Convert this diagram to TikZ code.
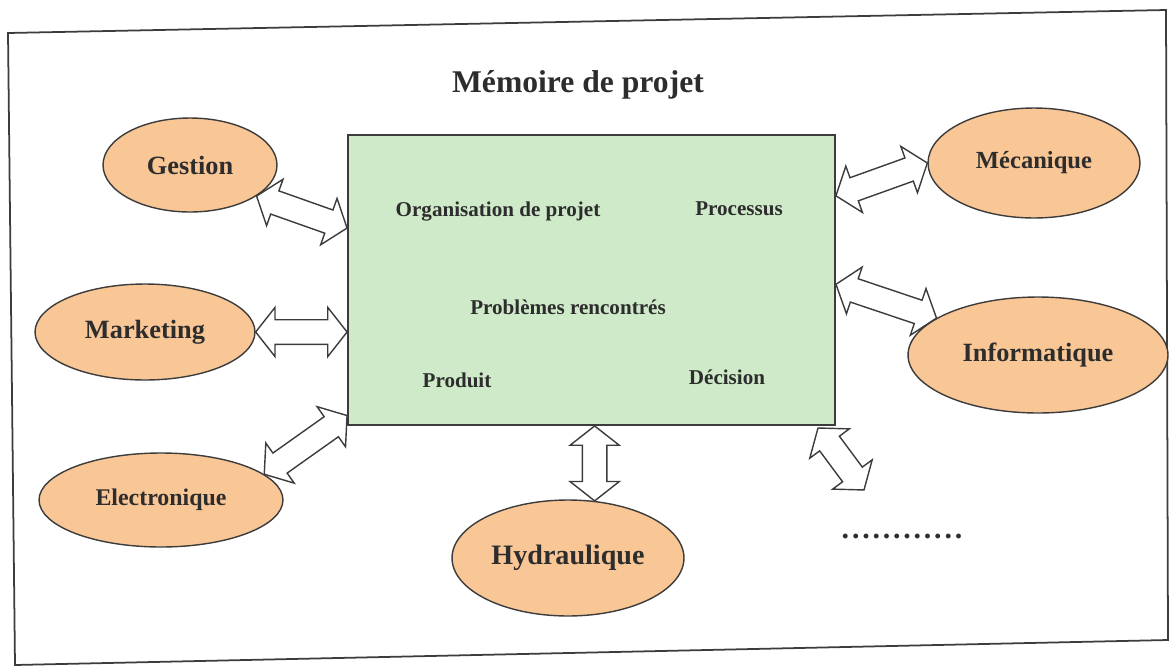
\documentclass[tikz,border=0pt]{standalone}
\usepackage{fontspec}
\setmainfont{Liberation Serif}
\usetikzlibrary{shapes.geometric,calc}

\definecolor{peach}{RGB}{249,198,150}
\definecolor{mint}{RGB}{206,234,200}
\definecolor{edge}{RGB}{60,60,60}
\definecolor{ink}{RGB}{45,45,45}

% hollow two-way arrow between two points
\newcommand{\headlen}{11pt}
\newcommand{\headw}{14pt}
\newcommand{\shaftw}{7pt}
\newcommand{\twoway}[2]{%
    \draw[twoarrow] let \p1=(#1), \p2=(#2),
        \n1={atan2(\y2-\y1,\x2-\x1)}, \n2={veclen(\x2-\x1,\y2-\y1)}
        in [shift={(\p1)}, rotate=\n1]
        (0pt,0pt) -- (\headlen,\headw) -- (\headlen,\shaftw)
        -- ({\n2-\headlen},\shaftw) -- ({\n2-\headlen},\headw) -- ({\n2*1pt},0pt)
        -- ({\n2-\headlen},-\headw) -- ({\n2-\headlen},-\shaftw)
        -- (\headlen,-\shaftw) -- (\headlen,-\headw) -- cycle;}

\begin{document}
\begin{tikzpicture}[x=0.02cm, y=-0.02cm,
        topic/.style={ellipse, draw=edge, fill=peach, line width=0.8pt, inner sep=0pt,
            text=ink, font=\bfseries\fontsize{15}{18}\selectfont},
        memo/.style={rectangle, draw=edge, fill=mint, line width=1.1pt, inner sep=0pt},
        item/.style={text=ink, font=\bfseries\fontsize{12}{14}\selectfont},
        twoarrow/.style={draw=edge, fill=white, line width=0.8pt, line join=miter}]
    \useasboundingbox (0,0) rectangle (1170,670);
    \draw[edge, line width=1pt] (8,33) -- (1166,10) -- (1168,640) -- (15,665) -- cycle;

    \node[text=ink, font=\bfseries\fontsize{18}{22}\selectfont] (title) at (578,85) {Mémoire de projet};

    % central box
    \node[memo, minimum width=9.74cm, minimum height=5.8cm] (box) at (591.5,280) {};
    \node[item] (orga) at (498,212) {Organisation de projet};
    \node[item] (proc) at (739,209) {Processus};
    \node[item] (prob) at (568,307) {Problèmes rencontrés};
    \node[item] (prod) at (457,380) {Produit};
    \node[item] (deci) at (727,377) {Décision};

    % domains
    \node[topic, minimum width=3.48cm, minimum height=1.88cm] (gestion) at (190,165) {Gestion};
    \node[topic, minimum width=4.4cm, minimum height=1.92cm] (marketing) at (145,332) {Marketing};
    \node[topic, minimum width=4.88cm, minimum height=1.88cm,
        font=\bfseries\fontsize{13.6}{16}\selectfont] (electro) at (161,500) {Electronique};
    \node[topic, minimum width=4.64cm, minimum height=2.32cm,
        font=\bfseries\fontsize{16}{19}\selectfont] (hydrau) at (568,558) {Hydraulique};
    \node[topic, minimum width=4.24cm, minimum height=2.2cm,
        font=\bfseries\fontsize{14}{17}\selectfont] (meca) at (1034,163) {Mécanique};
    \node[topic, minimum width=5.2cm, minimum height=2.32cm] (info) at (1038,355) {Informatique};

    \node[text=ink, font=\bfseries\fontsize{17}{20}\selectfont] (etc) at (902,536)
        {\foreach \k in {1,...,12}{.\hspace{1.6pt}}};
    \coordinate (etcA) at (818,428);
    \coordinate (etcB) at (864,490);

    % arrows
    \twoway{gestion.-25}{box.168}
    \twoway{marketing.east}{marketing.east -| box.west}
    \twoway{electro.14}{box.209}
    \twoway{hydrau.65}{hydrau.65 |- box.south}
    \twoway{meca.west}{box.19}
    \twoway{info.160}{box.-1}
    \twoway{etcA}{etcB}
\end{tikzpicture}
\end{document}
